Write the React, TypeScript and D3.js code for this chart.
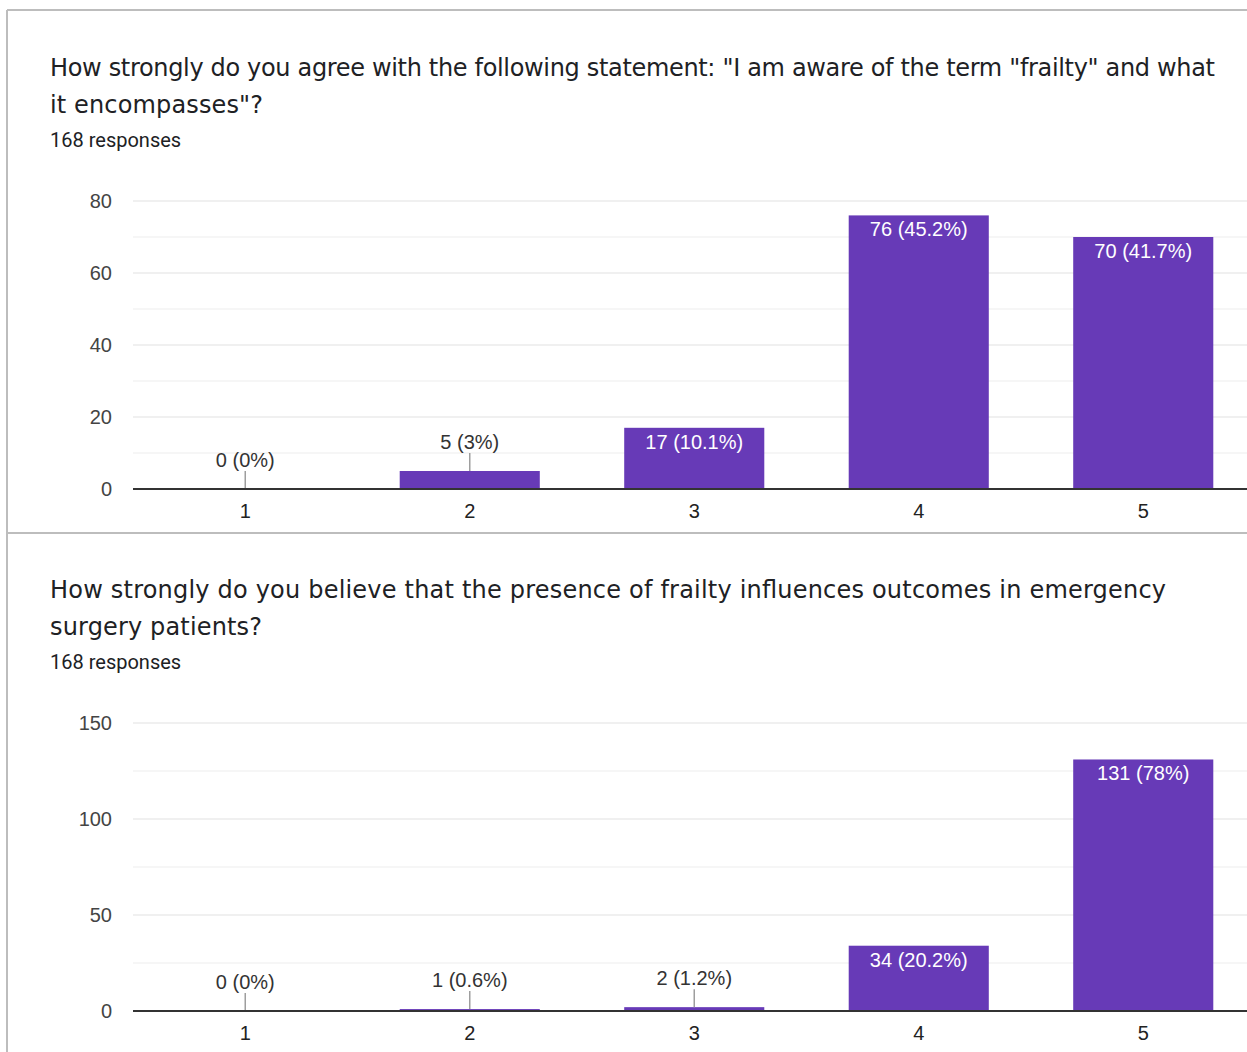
import React from "react";
import * as d3 from "d3";

const categories = ["1", "2", "3", "4", "5"];
const awarenessCounts = [0, 5, 17, 76, 70];
const awarenessPct = ["0%", "3%", "10.1%", "45.2%", "41.7%"];
const awarenessTicks = [0, 20, 40, 60, 80];
const awarenessMinor = [10, 30, 50, 70];
const outcomeCounts = [0, 1, 2, 34, 131];
const outcomePct = ["0%", "0.6%", "1.2%", "20.2%", "78%"];
const outcomeTicks = [0, 50, 100, 150];
const outcomeMinor = [25, 75, 125];

const titles1 = [
  'How strongly do you agree with the following statement: "I am aware of the term "frailty" and what',
  'it encompasses"?',
];
const titles2 = [
  "How strongly do you believe that the presence of frailty influences outcomes in emergency",
  "surgery patients?",
];
const responses = "168 responses";

// layout: rendered widths of the title lines
const titleWidths1 = [1165, 213];
const titleWidths2 = [1116, 212];

const PURPLE = "#673ab7";

function Panel({ y0, titles, widths, counts, pct, ticks, minor }: any) {
  const left = 133;
  const step = 224.5;
  const top = y0 + 201;
  const bottom = y0 + 489;
  const x = d3
    .scaleBand<string>()
    .domain(categories)
    .range([left, left + step * categories.length])
    .paddingInner(0.376)
    .paddingOuter(0.188);
  const y = d3
    .scaleLinear()
    .domain([0, ticks[ticks.length - 1]])
    .range([bottom, top]);
  const right = 1260;
  return (
    <g>
      {titles.map((t: string, i: number) => (
        <text
          key={i}
          x={50}
          y={y0 + 76 + i * 37}
          fontFamily="'DejaVu Sans', sans-serif"
          fontSize={24}
          fill="#202124"
          textLength={widths[i]}
          lengthAdjust="spacing"
        >
          {t}
        </text>
      ))}
      <text x={50} y={y0 + 147} fontFamily="Roboto, sans-serif" fontSize={20} fill="#202124">
        {responses}
      </text>
      {minor.map((v: number) => (
        <line key={"m" + v} x1={left} x2={right} y1={y(v)} y2={y(v)} stroke="#f3f3f3" strokeWidth={1.5} />
      ))}
      {ticks.map((v: number) => (
        <g key={"t" + v}>
          {v !== 0 && (
            <line x1={left} x2={right} y1={y(v)} y2={y(v)} stroke="#ebebeb" strokeWidth={1.5} />
          )}
          <text
            x={112}
            y={y(v)}
            dy="0.35em"
            textAnchor="end"
            fontFamily="'Liberation Sans', Arial, sans-serif"
            fontSize={20}
            fill="#444"
          >
            {v}
          </text>
        </g>
      ))}
      {categories.map((c, i) => {
        const v = counts[i];
        const bx = x(c)!;
        const bw = x.bandwidth();
        const by = y(v);
        const h = bottom - by;
        const cx = bx + bw / 2;
        const label = `${v} (${pct[i]})`;
        const inside = h > 30;
        return (
          <g key={c}>
            {v > 0 && <rect x={bx} y={by} width={bw} height={h} fill={PURPLE} />}
            {inside ? (
              <text
                x={cx}
                y={by + 21}
                textAnchor="middle"
                fontFamily="'Liberation Sans', Arial, sans-serif"
                fontSize={20}
                fill="#fff"
              >
                {label}
              </text>
            ) : (
              <g>
                <line x1={cx} x2={cx} y1={by} y2={by - 18} stroke="#9e9e9e" strokeWidth={1.5} />
                <text
                  x={cx}
                  y={by - 22}
                  textAnchor="middle"
                  fontFamily="'Liberation Sans', Arial, sans-serif"
                  fontSize={20}
                  fill="#333"
                >
                  {label}
                </text>
              </g>
            )}
            <text
              x={cx}
              y={bottom + 29}
              textAnchor="middle"
              fontFamily="'Liberation Sans', Arial, sans-serif"
              fontSize={20}
              fill="#222"
            >
              {c}
            </text>
          </g>
        );
      })}
      <line x1={left} x2={right} y1={bottom} y2={bottom} stroke="#333" strokeWidth={2} />
    </g>
  );
}

export default function App() {
  return (
    <svg
      width={1247}
      height={1052}
      style={{ position: "absolute", left: 0, top: 0, background: "#fff" }}
    >
      <rect x={0} y={0} width={1247} height={1052} fill="#fff" />
      <line x1={7} x2={1260} y1={10} y2={10} stroke="#bdbdbd" strokeWidth={2} />
      <line x1={7} x2={7} y1={10} y2={1060} stroke="#bdbdbd" strokeWidth={2} />
      <line x1={7} x2={1260} y1={533} y2={533} stroke="#bdbdbd" strokeWidth={2} />
      <Panel
        y0={0}
        titles={titles1}
        widths={titleWidths1}
        counts={awarenessCounts}
        pct={awarenessPct}
        ticks={awarenessTicks}
        minor={awarenessMinor}
      />
      <Panel
        y0={522}
        titles={titles2}
        widths={titleWidths2}
        counts={outcomeCounts}
        pct={outcomePct}
        ticks={outcomeTicks}
        minor={outcomeMinor}
      />
    </svg>
  );
}
